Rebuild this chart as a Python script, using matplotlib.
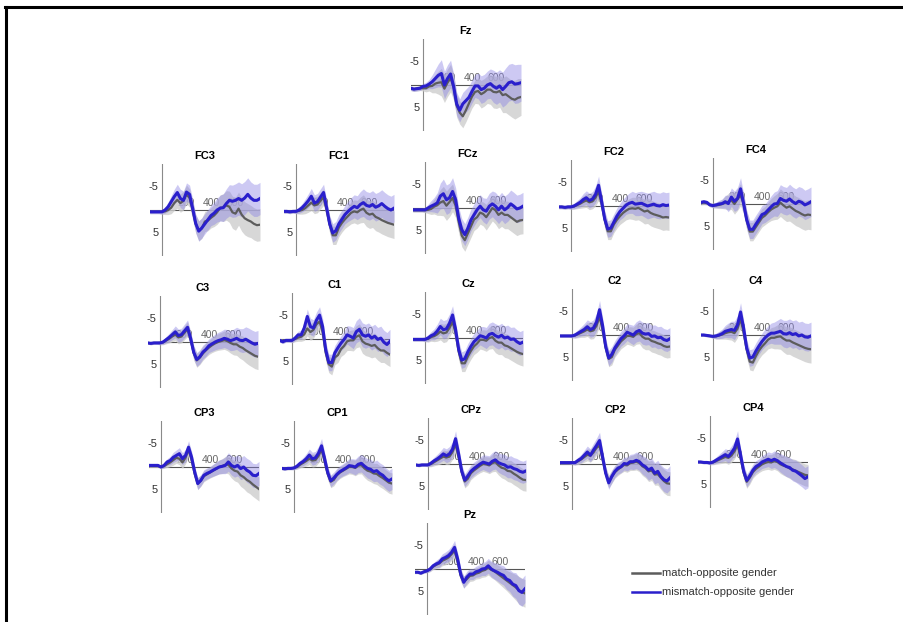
import matplotlib.pyplot as plt
from matplotlib.lines import Line2D

plt.rcParams['font.family'] = ['Liberation Sans', 'DejaVu Sans']

W, H = 904, 622

# time points (ms)
TIMES = [-100, -75, -50, -25, 0, 25, 50, 75, 100, 125, 150, 175, 200, 225, 250, 275, 300, 325,
         350, 375, 400, 425, 450, 475, 500, 525, 550, 575, 600, 625, 650, 675, 700, 725, 750, 775, 800]

# grand averages (uV): match / mismatch / standard error band
FZ_MATCH = [0.7, 0.9, 0.8, 0.7, 0.7, 0.7, 0.3, 0.2, -0.3, -0.5, -0.6, 0.8, -0.5, -1.5, 0.5, 4.5, 6.0, 6.8, 5.5, 4.0, 2.5, 1.5, 1.3, 2.0, 1.6, 1.0, 1.0, 1.5, 1.6, 1.3, 2.2, 2.0, 2.5, 3.0, 3.2, 2.8, 2.6]
FZ_MISMATCH = [0.7, 0.9, 0.8, 0.7, 0.3, 0.2, -0.2, -0.7, -1.4, -2.1, -2.5, 0.0, -1.4, -2.4, 0.3, 4.1, 5.5, 4.1, 3.4, 2.7, 1.4, 0.2, 0.2, 1.0, 0.7, 0.0, -0.3, 0.3, 0.7, 0.2, 1.0, 0.3, -0.5, -0.7, -0.2, -0.3, -0.5]
FZ_SE = [0.5, 0.5, 0.5, 0.5, 0.6, 0.8, 1.0, 1.5, 2.0, 2.5, 3.0, 3.0, 3.0, 3.0, 2.8, 2.5, 2.5, 2.5, 2.5, 2.5, 2.5, 2.5, 2.8, 3.0, 3.0, 3.0, 3.2, 3.5, 3.5, 3.5, 3.8, 4.0, 4.0, 4.0, 4.2, 4.2, 4.0]

FC3_MATCH = [0.4, 0.4, 0.4, 0.4, 0.4, 0.3, 0.0, -0.5, -1.5, -2.2, -1.5, -2.0, -3.4, -2.6, 0.0, 3.0, 4.5, 4.0, 2.5, 2.3, 1.7, 1.2, 0.5, -0.5, -0.5, -1.0, -0.7, 0.5, 0.8, -0.3, 1.0, 1.8, 2.2, 2.5, 3.0, 3.3, 3.2]
FC3_MISMATCH = [0.4, 0.4, 0.4, 0.4, 0.4, 0.0, -0.7, -1.8, -2.9, -3.8, -2.5, -2.1, -3.9, -3.4, -0.4, 2.9, 4.6, 3.9, 3.0, 2.1, 1.2, 0.7, 0.0, -0.4, -0.5, -1.4, -2.1, -1.9, -2.1, -2.5, -2.1, -2.6, -3.4, -2.6, -2.1, -2.1, -2.5]
FC3_SE = [0.4, 0.4, 0.4, 0.4, 0.5, 0.7, 1.0, 1.3, 1.6, 1.8, 2.0, 2.0, 2.0, 2.0, 2.0, 2.0, 2.2, 2.2, 2.2, 2.2, 2.2, 2.4, 2.6, 2.8, 3.0, 3.2, 3.4, 3.5, 3.6, 3.6, 3.6, 3.6, 3.6, 3.5, 3.5, 3.5, 3.5]

FC1_MATCH = [0.3, 0.3, 0.4, 0.3, 0.3, 0.2, 0.0, -0.4, -1.0, -1.6, -1.0, -1.2, -2.0, -2.8, 0.0, 3.2, 5.5, 5.5, 3.8, 2.8, 2.0, 1.3, 0.6, 0.3, 0.5, 0.0, -0.3, 0.6, 1.0, 0.8, 1.5, 1.8, 2.2, 2.5, 2.8, 3.0, 3.2]
FC1_MISMATCH = [0.3, 0.3, 0.4, 0.3, 0.3, 0.0, -0.5, -1.2, -2.0, -3.0, -1.5, -1.8, -2.8, -3.8, -0.5, 3.0, 5.0, 4.5, 3.0, 2.0, 1.0, 0.3, -0.3, -0.8, -0.5, -1.2, -1.6, -1.0, -0.8, -1.2, -0.6, -0.9, -1.4, -0.8, -0.3, 0.0, -0.4]
FC1_SE = [0.4, 0.4, 0.4, 0.4, 0.5, 0.7, 0.9, 1.2, 1.5, 1.7, 1.8, 1.8, 1.8, 1.8, 1.8, 1.8, 2.0, 2.0, 2.0, 2.0, 2.0, 2.2, 2.4, 2.5, 2.6, 2.8, 3.0, 3.0, 3.0, 3.0, 3.0, 3.0, 3.0, 3.0, 3.0, 3.0, 3.0]

FCZ_MATCH = [0.5, 0.5, 0.5, 0.5, 0.5, 0.4, 0.2, -0.3, -0.6, -1.2, -1.5, -0.5, -1.3, -2.2, -0.5, 3.0, 6.0, 7.0, 5.5, 4.0, 2.5, 2.0, 1.0, 1.3, 2.0, 1.0, 0.0, 0.5, 1.5, 1.0, 1.5, 1.5, 2.0, 2.5, 3.0, 2.7, 2.6]
FCZ_MISMATCH = [0.4, 0.4, 0.4, 0.4, 0.4, 0.0, -0.4, -0.7, -1.1, -2.6, -3.1, -1.8, -2.2, -3.6, -1.8, 2.2, 4.7, 5.8, 4.4, 2.6, 1.5, 0.4, -0.4, 0.4, 0.7, -0.4, -0.9, -0.4, 0.4, -0.4, 0.4, -0.1, -0.9, -0.4, 0.2, 0.0, -0.4]
FCZ_SE = [0.4, 0.4, 0.4, 0.4, 0.5, 0.8, 1.2, 1.6, 2.2, 2.8, 3.2, 3.2, 3.2, 3.0, 2.6, 2.4, 2.4, 2.4, 2.4, 2.4, 2.4, 2.4, 2.5, 2.6, 2.8, 2.8, 2.8, 3.0, 3.0, 3.0, 3.0, 3.0, 3.0, 3.0, 3.0, 3.0, 3.0]

FC2_MATCH = [0.2, 0.2, 0.3, 0.2, 0.2, 0.1, -0.2, -0.5, -0.9, -1.2, -0.8, -1.0, -1.8, -3.2, -0.5, 3.0, 5.5, 5.5, 4.0, 3.0, 2.2, 1.5, 1.0, 0.6, 0.5, 0.6, 0.4, 0.8, 1.2, 1.0, 1.5, 1.8, 2.0, 2.2, 2.5, 2.4, 2.5]
FC2_MISMATCH = [0.2, 0.2, 0.3, 0.2, 0.2, 0.0, -0.4, -0.8, -1.4, -1.8, -1.2, -1.5, -2.5, -4.5, -1.0, 2.8, 5.0, 4.8, 3.5, 2.2, 1.2, 0.5, -0.2, -0.6, -0.8, -0.4, -0.5, -0.6, -0.3, 0.0, -0.2, -0.4, -0.1, 0.0, -0.3, -0.1, -0.2]
FC2_SE = [0.4, 0.4, 0.4, 0.4, 0.5, 0.6, 0.8, 1.0, 1.3, 1.5, 1.6, 1.6, 1.8, 2.0, 1.8, 1.8, 1.8, 1.8, 1.8, 1.8, 1.8, 2.0, 2.0, 2.2, 2.4, 2.5, 2.6, 2.6, 2.7, 2.8, 2.8, 2.8, 2.8, 2.8, 2.8, 2.8, 2.8]

FC4_MATCH = [-0.2, -0.3, -0.2, 0.2, 0.3, 0.3, 0.2, 0.0, -0.3, -0.5, -0.8, 0.0, -1.0, -2.0, 0.0, 3.5, 6.0, 6.0, 5.0, 4.0, 3.0, 2.5, 1.8, 1.2, 0.8, 0.5, -0.3, 0.3, 0.8, 0.5, 1.0, 1.5, 1.8, 2.2, 2.5, 2.3, 2.4]
FC4_MISMATCH = [-0.35, -0.5, -0.35, 0.2, 0.35, 0.2, 0.0, -0.1, -0.5, -0.1, -1.5, -0.6, -1.2, -3.3, -0.1, 3.4, 5.5, 5.5, 4.4, 3.4, 2.3, 2.0, 1.3, 0.6, 0.0, -0.1, -1.2, -0.8, -0.6, -1.1, -0.5, -0.1, -0.6, -0.35, 0.2, -0.1, -0.5]
FC4_SE = [0.4, 0.4, 0.4, 0.4, 0.5, 0.6, 0.8, 1.0, 1.4, 1.8, 2.0, 2.2, 2.4, 2.4, 2.2, 2.0, 2.0, 2.0, 2.0, 2.0, 2.0, 2.0, 2.2, 2.4, 2.6, 2.8, 3.0, 3.0, 3.0, 3.2, 3.2, 3.2, 3.2, 3.2, 3.2, 3.2, 3.2]

C3_MATCH = [0.2, 0.3, 0.2, 0.2, 0.2, 0.1, -0.3, -0.7, -1.2, -1.6, -1.0, -1.2, -2.0, -2.8, -0.6, 2.4, 4.0, 3.4, 2.5, 1.8, 1.2, 0.7, 0.3, 0.0, -0.2, -0.4, -0.2, 0.2, 0.5, 0.5, 1.0, 1.3, 1.8, 2.2, 2.6, 3.0, 3.2]
C3_MISMATCH = [0.2, 0.3, 0.2, 0.2, 0.2, 0.0, -0.5, -1.0, -1.6, -2.2, -1.4, -1.6, -2.4, -3.2, -0.8, 2.2, 3.8, 3.2, 2.2, 1.6, 0.8, 0.4, 0.0, -0.3, -0.5, -0.8, -0.6, -0.3, -0.5, -0.8, -0.4, -0.3, -0.6, -0.2, 0.2, 0.5, 0.3]
C3_SE = [0.3, 0.3, 0.3, 0.3, 0.4, 0.5, 0.7, 0.9, 1.1, 1.3, 1.4, 1.4, 1.5, 1.6, 1.5, 1.5, 1.5, 1.5, 1.5, 1.5, 1.5, 1.6, 1.7, 1.8, 1.9, 2.0, 2.1, 2.2, 2.3, 2.4, 2.5, 2.6, 2.7, 2.8, 2.8, 2.8, 2.8]

C1_MATCH = [0.3, 0.5, 0.3, 0.3, 0.3, 0.0, -0.3, -0.5, -1.0, -2.3, -1.5, -2.0, -3.2, -3.8, -1.5, 3.0, 5.5, 6.0, 4.0, 3.5, 2.2, 1.5, 0.5, 0.3, 0.3, -0.5, -0.8, 0.5, 1.0, 1.2, 1.5, 1.3, 2.0, 2.5, 2.5, 3.0, 3.4]
C1_MISMATCH = [0.3, 0.6, 0.3, 0.3, 0.3, -0.2, -0.9, -0.9, -2.4, -4.9, -2.7, -2.4, -4.1, -5.2, -2.7, 2.3, 5.1, 5.1, 3.0, 1.9, 0.9, 0.1, -0.9, -0.6, -0.2, -1.6, -2.1, -0.9, -0.6, -0.9, -0.2, -0.6, 0.1, -0.2, 0.7, 1.2, 0.5]
C1_SE = [0.4, 0.4, 0.4, 0.4, 0.5, 0.6, 0.8, 1.0, 1.3, 1.6, 1.8, 1.8, 1.8, 1.8, 1.8, 1.8, 1.8, 1.8, 1.6, 1.6, 1.6, 1.8, 2.0, 2.2, 2.3, 2.4, 2.5, 2.6, 2.6, 2.6, 2.6, 2.6, 2.6, 2.6, 2.6, 2.6, 2.6]

CZ_MATCH = [0.3, 0.3, 0.3, 0.3, 0.3, 0.2, -0.2, -0.4, -0.8, -1.4, -1.0, -1.2, -2.2, -3.5, -1.0, 3.0, 5.5, 5.5, 4.0, 2.8, 1.8, 1.2, 0.4, 0.4, 0.6, 0.0, -0.2, 0.6, 1.0, 1.0, 1.6, 1.8, 2.2, 2.6, 3.0, 3.3, 3.5]
CZ_MISMATCH = [0.3, 0.3, 0.3, 0.3, 0.3, 0.0, -0.5, -0.8, -1.5, -2.5, -1.8, -2.0, -3.2, -5.0, -1.8, 2.5, 4.8, 4.5, 3.0, 1.8, 0.8, 0.2, -0.5, -0.3, 0.0, -0.8, -1.0, -0.5, -0.2, -0.6, 0.0, -0.2, 0.3, 0.2, 0.8, 1.2, 0.9]
CZ_SE = [0.4, 0.4, 0.4, 0.4, 0.5, 0.7, 0.9, 1.2, 1.5, 1.8, 2.0, 2.0, 2.0, 2.0, 1.8, 1.8, 1.8, 1.8, 1.8, 1.8, 1.8, 1.9, 2.0, 2.2, 2.3, 2.4, 2.5, 2.6, 2.6, 2.6, 2.6, 2.6, 2.6, 2.6, 2.6, 2.6, 2.6]

C2_MATCH = [0.2, 0.2, 0.2, 0.2, 0.2, 0.1, -0.2, -0.5, -0.8, -1.2, -0.8, -1.0, -2.0, -4.0, -1.0, 2.8, 5.2, 4.8, 3.2, 2.3, 1.4, 0.8, 0.2, 0.2, 0.4, -0.2, -0.4, 0.4, 0.8, 0.8, 1.3, 1.5, 1.8, 2.0, 2.4, 2.6, 2.5]
C2_MISMATCH = [0.2, 0.2, 0.2, 0.2, 0.2, 0.0, -0.4, -0.8, -1.2, -1.8, -1.2, -1.5, -2.8, -5.5, -2.0, 2.5, 5.0, 4.2, 2.8, 1.8, 0.8, 0.2, -0.6, -0.3, 0.0, -0.7, -1.0, -0.4, -0.2, -0.3, 0.3, 0.2, 0.6, 0.5, 1.0, 1.2, 0.8]
C2_SE = [0.3, 0.3, 0.3, 0.3, 0.4, 0.6, 0.8, 1.0, 1.3, 1.5, 1.7, 1.8, 1.9, 2.0, 1.8, 1.7, 1.7, 1.7, 1.6, 1.6, 1.6, 1.7, 1.8, 2.0, 2.1, 2.2, 2.3, 2.4, 2.4, 2.4, 2.4, 2.4, 2.4, 2.4, 2.4, 2.4, 2.4]

C4_MATCH = [0.0, 0.0, 0.1, 0.2, 0.3, 0.3, 0.1, -0.1, -0.4, -0.6, -0.7, -0.4, -1.4, -3.5, -0.5, 3.2, 5.8, 6.0, 4.6, 3.4, 2.5, 1.8, 1.0, 0.6, 0.6, 0.4, 0.3, 0.8, 1.2, 1.2, 1.6, 1.9, 2.2, 2.5, 2.8, 3.0, 3.1]
C4_MISMATCH = [0.0, 0.0, 0.1, 0.2, 0.3, 0.2, 0.0, -0.3, -0.8, -1.0, -1.2, -1.0, -2.2, -5.0, -1.5, 2.8, 5.0, 4.8, 3.5, 2.4, 1.4, 0.6, 0.0, -0.4, -0.4, -0.6, -0.8, -0.3, -0.2, -0.5, -0.1, -0.3, 0.2, 0.0, 0.4, 0.5, 0.2]
C4_SE = [0.3, 0.3, 0.3, 0.3, 0.4, 0.6, 0.8, 1.0, 1.3, 1.6, 1.8, 2.0, 2.0, 2.0, 1.8, 1.8, 1.8, 1.8, 1.8, 1.8, 1.8, 1.9, 2.0, 2.2, 2.4, 2.6, 2.8, 2.9, 3.0, 3.0, 3.0, 3.0, 3.0, 3.0, 3.0, 3.0, 3.0]

CP3_MATCH = [-0.2, -0.2, -0.2, -0.2, 0.0, -0.2, -0.6, -1.0, -1.5, -2.0, -1.8, -1.0, -2.0, -3.8, -1.5, 1.5, 3.6, 3.0, 2.0, 1.6, 1.2, 0.8, 0.4, 0.0, -0.2, -0.5, -0.5, 0.3, 0.8, 1.0, 1.8, 2.2, 2.8, 3.2, 3.8, 4.3, 4.8]
CP3_MISMATCH = [-0.35, -0.35, -0.35, -0.35, 0.0, -0.35, -1.1, -1.4, -2.1, -2.5, -2.9, -1.8, -2.5, -4.3, -2.1, 1.1, 3.6, 2.9, 1.8, 1.4, 1.1, 0.7, 0.35, 0.0, -0.15, -0.35, -1.1, -0.35, 0.0, -0.35, 0.35, 0.0, 0.7, 1.1, 1.8, 1.9, 1.4]
CP3_SE = [0.3, 0.3, 0.3, 0.3, 0.4, 0.5, 0.7, 0.9, 1.1, 1.2, 1.3, 1.3, 1.3, 1.4, 1.3, 1.3, 1.3, 1.2, 1.2, 1.2, 1.2, 1.3, 1.4, 1.5, 1.6, 1.8, 2.0, 2.1, 2.2, 2.3, 2.4, 2.5, 2.6, 2.6, 2.6, 2.6, 2.6]

CP1_MATCH = [0.3, 0.4, 0.3, 0.3, 0.2, 0.0, -0.5, -0.9, -1.3, -1.8, -1.4, -1.5, -2.4, -3.8, -1.2, 1.5, 3.2, 2.8, 1.8, 1.2, 0.8, 0.4, 0.0, 0.0, 0.2, -0.3, -0.4, 0.3, 0.8, 1.0, 1.4, 1.5, 2.0, 2.4, 2.9, 3.4, 3.6]
CP1_MISMATCH = [0.3, 0.4, 0.3, 0.3, 0.2, -0.2, -0.8, -1.2, -1.8, -2.6, -1.8, -2.0, -3.0, -4.6, -1.8, 1.2, 3.0, 2.4, 1.6, 1.0, 0.6, 0.2, -0.3, -0.2, 0.0, -0.6, -0.8, -0.2, 0.3, 0.5, 1.0, 0.8, 1.4, 1.8, 2.5, 3.0, 2.6]
CP1_SE = [0.3, 0.3, 0.3, 0.3, 0.4, 0.5, 0.7, 0.9, 1.1, 1.3, 1.4, 1.4, 1.5, 1.6, 1.4, 1.3, 1.3, 1.3, 1.3, 1.3, 1.3, 1.4, 1.5, 1.6, 1.7, 1.8, 1.9, 2.0, 2.1, 2.2, 2.2, 2.3, 2.3, 2.3, 2.3, 2.3, 2.3]

CPZ_MATCH = [0.2, 0.3, 0.2, 0.2, 0.2, 0.0, -0.4, -0.8, -1.2, -1.6, -1.4, -1.6, -2.6, -4.3, -1.4, 1.8, 3.8, 3.2, 2.0, 1.4, 0.9, 0.4, 0.0, 0.1, 0.3, -0.2, -0.4, 0.3, 0.8, 1.0, 1.5, 1.6, 2.1, 2.5, 3.0, 3.4, 3.5]
CPZ_MISMATCH = [0.2, 0.3, 0.2, 0.2, 0.2, -0.2, -0.7, -1.1, -1.6, -2.2, -1.8, -2.2, -3.2, -5.5, -2.2, 1.5, 3.5, 2.6, 1.6, 1.0, 0.5, 0.0, -0.4, -0.2, 0.0, -0.6, -0.9, -0.3, 0.0, 0.2, 0.7, 0.6, 1.0, 1.2, 1.6, 1.8, 1.5]
CPZ_SE = [0.3, 0.3, 0.3, 0.3, 0.4, 0.6, 0.8, 1.0, 1.2, 1.4, 1.5, 1.6, 1.6, 1.7, 1.5, 1.4, 1.4, 1.4, 1.4, 1.4, 1.4, 1.5, 1.6, 1.7, 1.8, 1.9, 2.0, 2.1, 2.2, 2.3, 2.3, 2.4, 2.4, 2.4, 2.4, 2.4, 2.4]

CP2_MATCH = [-0.3, -0.3, -0.3, -0.3, -0.3, -0.3, -0.6, -1.0, -1.5, -2.0, -1.8, -2.5, -3.5, -4.0, -1.0, 2.0, 3.8, 2.8, 1.8, 1.2, 0.7, 0.2, 0.3, -0.2, -0.3, -0.5, -0.2, 0.5, 0.9, 1.6, 1.4, 2.3, 2.2, 3.0, 3.7, 4.2, 4.3]
CP2_MISMATCH = [-0.3, -0.3, -0.3, -0.3, -0.3, -0.3, -0.8, -1.2, -1.9, -2.6, -1.9, -3.0, -4.0, -5.1, -1.5, 2.0, 4.1, 2.7, 1.6, 0.9, 0.6, -0.1, 0.0, -0.5, -0.5, -0.8, -0.5, 0.2, 0.6, 1.3, 0.9, 2.0, 1.6, 2.7, 3.4, 3.7, 3.0]
CP2_SE = [0.3, 0.3, 0.3, 0.3, 0.4, 0.5, 0.7, 0.9, 1.1, 1.3, 1.4, 1.5, 1.6, 1.8, 1.5, 1.4, 1.4, 1.4, 1.3, 1.3, 1.3, 1.4, 1.5, 1.6, 1.7, 1.8, 1.9, 2.0, 2.1, 2.2, 2.2, 2.3, 2.4, 2.5, 2.6, 2.6, 2.6]

CP4_MATCH = [0.0, 0.0, 0.1, 0.1, 0.2, 0.1, -0.2, -0.5, -0.8, -1.1, -0.9, -1.4, -2.3, -3.8, -0.8, 2.4, 4.3, 3.4, 2.2, 1.5, 1.0, 0.5, 0.2, 0.0, 0.1, -0.2, 0.0, 0.5, 0.8, 1.0, 1.4, 1.6, 1.9, 2.2, 2.5, 2.8, 2.9]
CP4_MISMATCH = [0.0, 0.0, 0.1, 0.1, 0.2, 0.0, -0.4, -0.8, -1.2, -1.6, -1.2, -2.0, -3.0, -5.0, -1.5, 2.0, 4.0, 3.0, 1.8, 1.0, 0.6, 0.0, -0.3, -0.6, -0.3, -0.6, -0.3, 0.2, 0.6, 1.0, 1.2, 1.8, 2.0, 2.5, 3.0, 3.6, 3.2]
CP4_SE = [0.3, 0.3, 0.3, 0.3, 0.4, 0.5, 0.7, 0.9, 1.1, 1.3, 1.4, 1.5, 1.6, 1.8, 1.5, 1.4, 1.4, 1.4, 1.3, 1.3, 1.3, 1.4, 1.5, 1.6, 1.7, 1.8, 1.9, 2.0, 2.1, 2.2, 2.2, 2.3, 2.4, 2.4, 2.4, 2.4, 2.4]

PZ_MATCH = [0.7, 0.7, 0.9, 0.6, 0.4, 0.1, -0.5, -0.9, -1.2, -1.8, -2.1, -2.5, -3.2, -4.0, -1.5, 1.5, 2.8, 2.2, 1.5, 1.4, 1.0, 0.8, 0.4, 0.2, -0.3, 0.2, 0.5, 1.0, 1.5, 2.0, 2.5, 3.0, 3.5, 4.0, 4.6, 5.0, 5.3]
PZ_MISMATCH = [0.7, 0.7, 0.9, 0.6, 0.4, 0.0, -0.7, -1.1, -1.4, -2.2, -2.5, -2.9, -3.6, -4.7, -2.2, 1.1, 2.9, 1.8, 1.1, 1.1, 0.6, 0.4, 0.0, -0.1, -0.7, 0.0, 0.4, 0.7, 1.1, 1.4, 2.2, 2.5, 3.3, 3.6, 4.7, 5.1, 4.3]
PZ_SE = [0.3, 0.3, 0.3, 0.3, 0.4, 0.5, 0.6, 0.8, 1.0, 1.1, 1.2, 1.3, 1.4, 1.5, 1.3, 1.3, 1.3, 1.3, 1.2, 1.2, 1.2, 1.3, 1.4, 1.5, 1.6, 1.7, 1.8, 1.9, 2.0, 2.1, 2.2, 2.4, 2.6, 2.8, 3.0, 3.0, 3.0]

CHANNELS = {
    "Fz": (FZ_MATCH, FZ_MISMATCH, FZ_SE),
    "FC3": (FC3_MATCH, FC3_MISMATCH, FC3_SE),
    "FC1": (FC1_MATCH, FC1_MISMATCH, FC1_SE),
    "FCz": (FCZ_MATCH, FCZ_MISMATCH, FCZ_SE),
    "FC2": (FC2_MATCH, FC2_MISMATCH, FC2_SE),
    "FC4": (FC4_MATCH, FC4_MISMATCH, FC4_SE),
    "C3": (C3_MATCH, C3_MISMATCH, C3_SE),
    "C1": (C1_MATCH, C1_MISMATCH, C1_SE),
    "Cz": (CZ_MATCH, CZ_MISMATCH, CZ_SE),
    "C2": (C2_MATCH, C2_MISMATCH, C2_SE),
    "C4": (C4_MATCH, C4_MISMATCH, C4_SE),
    "CP3": (CP3_MATCH, CP3_MISMATCH, CP3_SE),
    "CP1": (CP1_MATCH, CP1_MISMATCH, CP1_SE),
    "CPz": (CPZ_MATCH, CPZ_MISMATCH, CPZ_SE),
    "CP2": (CP2_MATCH, CP2_MISMATCH, CP2_SE),
    "CP4": (CP4_MATCH, CP4_MISMATCH, CP4_SE),
    "Pz": (PZ_MATCH, PZ_MISMATCH, PZ_SE),
}

X_TICKS = [200, 400, 600]
Y_TICKS = [-5, 5]
LEGEND_LABELS = ["match-opposite gender", "mismatch-opposite gender"]

# layout: pixel x of the 0 ms axis and pixel y of the 0 uV line for each panel
PANEL_POS = {
    "Fz": (423, 85),
    "FC3": (162, 210), "FC1": (296, 210), "FCz": (425, 208), "FC2": (571, 206), "FC4": (713, 204),
    "C3": (160, 342), "C1": (292, 339), "Cz": (425, 338), "C2": (572, 335), "C4": (713, 335),
    "CP3": (161, 467), "CP1": (294, 467), "CPz": (428, 464), "CP2": (572, 464), "CP4": (710, 462),
    "Pz": (427, 569),
}
PX_PER_MS = 0.1225
PX_PER_UV = 4.6

GRAY = "#5c5c5c"
BLUE = "#2a1fcc"


def main():
    fig = plt.figure(figsize=(W / 100, H / 100), dpi=100)

    for name, (match, mismatch, se) in CHANNELS.items():
        x0, y0 = PANEL_POS[name]
        left = x0 - 100 * PX_PER_MS
        top = y0 - 10 * PX_PER_UV
        ax = fig.add_axes([left / W, 1 - (top + 20 * PX_PER_UV) / H,
                           900 * PX_PER_MS / W, 20 * PX_PER_UV / H])
        ax.set_xlim(-100, 800)
        ax.set_ylim(10, -10)
        ax.axis("off")

        for t in X_TICKS:
            ax.text(t, -0.5, str(t), ha="center", va="bottom", fontsize=7.5,
                    color="#666666", zorder=1)
        for v in Y_TICKS:
            ax.text(-28, v, str(v), ha="right", va="center", fontsize=8,
                    color="#333333", clip_on=False)
        ax.plot([0, 0], [-10, 10], color="#8a8a8a", lw=0.8, zorder=2)
        ax.plot([-100, 800], [0, 0], color="#555555", lw=0.8, zorder=2)

        lo_m = [m - s for m, s in zip(match, se)]
        hi_m = [m + s for m, s in zip(match, se)]
        lo_b = [m - s for m, s in zip(mismatch, se)]
        hi_b = [m + s for m, s in zip(mismatch, se)]
        ax.fill_between(TIMES, lo_m, hi_m, color="#cdcdcd", alpha=0.8, lw=0, zorder=3)
        ax.fill_between(TIMES, lo_b, hi_b, color="#8880e4", alpha=0.42, lw=0, zorder=4)
        ax.plot(TIMES, match, color=GRAY, lw=1.6, zorder=5)
        ax.plot(TIMES, mismatch, color=BLUE, lw=2.2, zorder=6)

        ax.text(350, -11.8, name, ha="center", va="center", fontsize=8,
                fontweight="bold", clip_on=False)

    # legend
    for i, (label, color) in enumerate(zip(LEGEND_LABELS, [GRAY, BLUE])):
        y = 1 - (573 + 19 * i) / H
        fig.add_artist(Line2D([632 / W, 660 / W], [y, y], color=color, lw=1.8))
        fig.text(662 / W, y, label, ha="left", va="center", fontsize=8, color="#333333")

    # black frame on top and left edge
    fig.add_artist(Line2D([5 / W, 1], [1 - 7 / H, 1 - 7 / H], color="black", lw=2.2))
    fig.add_artist(Line2D([6 / W, 6 / W], [0, 1 - 7 / H], color="black", lw=2.2))

    fig.savefig("out.png", dpi=100)
    plt.close(fig)


if __name__ == "__main__":
    main()
